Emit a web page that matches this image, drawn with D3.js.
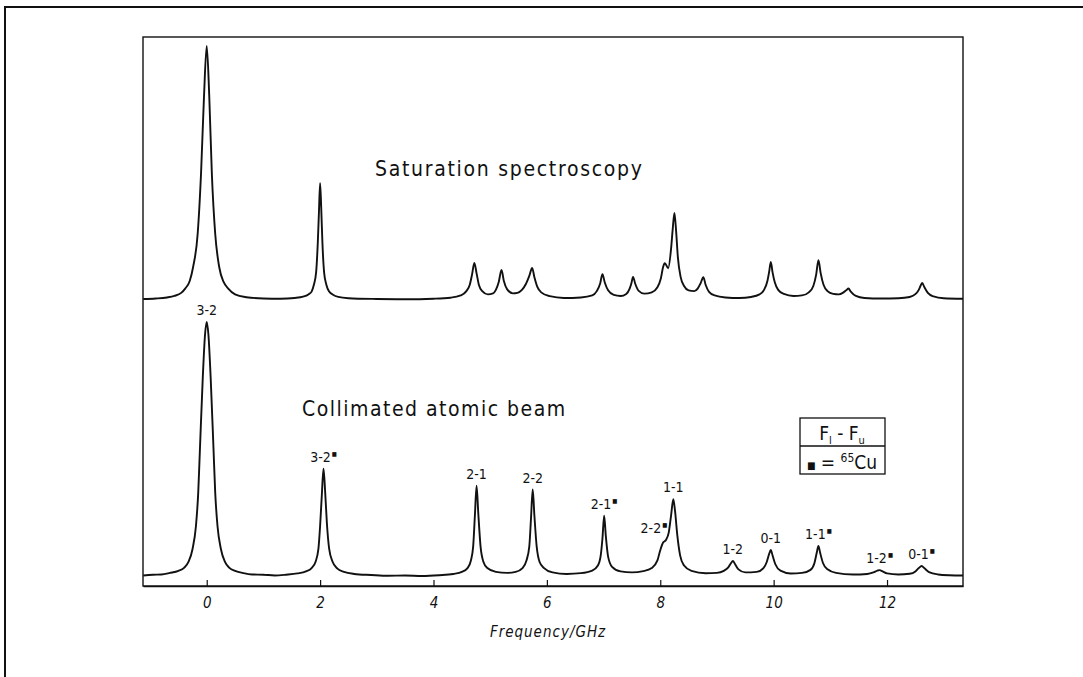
<!DOCTYPE html>
<html>
<head>
<meta charset="utf-8">
<script src="https://cdn.jsdelivr.net/npm/d3@7"></script>
<style>
  html, body { margin: 0; padding: 0; background: #fff; }
  svg { display: block; }
  .lbl { font-family: "DejaVu Sans Condensed", "DejaVu Sans", sans-serif; fill: #111; }
  .tick text { font-family: "DejaVu Sans Condensed", "DejaVu Sans", sans-serif; font-style: italic; font-size: 15px; fill: #111; }
</style>
</head>
<body>
<svg id="chart" width="1083" height="677"></svg>
<script>
// Frequency axis (GHz)
const freqTicks = [0, 2, 4, 6, 8, 10, 12];
const freqDomain = [-1.124, 13.34];

// Saturation spectroscopy trace: [frequency GHz, signal]
const saturationTrace = [
  [-1.12, 0.4], [-0.9, 0.6], [-0.7, 1.0], [-0.57, 1.6], [-0.45, 2.8], [-0.38, 4.5], [-0.3, 7.5],
  [-0.24, 13], [-0.16, 26], [-0.1, 50], [-0.05, 79], [0, 100], [0.045, 80], [0.09, 50],
  [0.15, 26], [0.22, 13], [0.3, 7], [0.38, 4.5], [0.5, 2.2], [0.7, 1.1], [1.0, 0.6], [1.3, 0.5],
  [1.55, 0.8], [1.7, 1.3], [1.8, 2.3], [1.85, 3.3], [1.89, 6], [1.93, 11], [1.96, 23], [1.98, 35],
  [2.0, 46], [2.02, 36], [2.04, 23], [2.07, 11], [2.11, 6], [2.16, 3.3], [2.22, 2.2], [2.32, 1.2],
  [2.5, 0.7], [3.0, 0.4], [3.5, 0.3], [4.0, 0.5], [4.3, 0.9], [4.48, 1.8], [4.58, 3.5], [4.64, 6],
  [4.68, 10], [4.72, 14.6], [4.76, 10.5], [4.8, 6], [4.86, 3.5], [4.96, 2.2], [5.05, 2.6], [5.1, 4],
  [5.15, 7], [5.2, 11.8], [5.24, 7.6], [5.3, 4.2], [5.4, 2.6], [5.48, 2.8], [5.56, 4], [5.63, 6.3],
  [5.69, 9.5], [5.74, 12.6], [5.78, 9], [5.83, 5.3], [5.9, 3], [6.05, 1.5], [6.3, 0.8], [6.6, 1.0],
  [6.8, 1.8], [6.88, 3.5], [6.94, 6.5], [6.98, 10.2], [7.02, 7], [7.08, 3.8], [7.18, 2], [7.3, 1.6],
  [7.4, 2.4], [7.46, 4.5], [7.49, 6.5], [7.52, 9.1], [7.56, 6.3], [7.62, 3.6], [7.72, 2.5], [7.85, 3],
  [7.95, 5], [8.01, 8.5], [8.05, 13], [8.08, 14.5], [8.14, 12.5], [8.19, 20], [8.22, 28], [8.25, 34.3],
  [8.28, 27], [8.31, 17], [8.36, 9], [8.42, 5.5], [8.5, 3.8], [8.6, 3.5], [8.66, 4.5], [8.71, 6.5],
  [8.76, 9], [8.8, 6], [8.86, 3.2], [8.96, 1.8], [9.15, 1], [9.4, 0.8], [9.6, 1.2], [9.75, 2.2],
  [9.83, 4], [9.89, 7.5], [9.92, 11], [9.95, 15], [9.98, 11], [10.02, 7], [10.08, 4], [10.18, 2.4],
  [10.35, 1.6], [10.5, 1.8], [10.62, 3], [10.7, 5.5], [10.75, 10], [10.79, 15.7], [10.83, 10.5],
  [10.88, 6], [10.95, 3.5], [11.05, 2.4], [11.15, 2.2], [11.22, 2.8], [11.28, 3.8], [11.32, 4.5],
  [11.36, 3.3], [11.45, 1.6], [11.6, 0.8], [11.9, 0.6], [12.2, 0.7], [12.4, 1.2], [12.5, 2.3],
  [12.56, 4], [12.6, 6], [12.62, 6.7], [12.66, 5], [12.72, 2.8], [12.82, 1.4], [13.0, 0.7], [13.34, 0.5]
];

// Collimated atomic beam trace: [frequency GHz, signal]
const beamTrace = [
  [-1.12, 0.6], [-0.95, 0.9], [-0.8, 1.0], [-0.65, 1.6], [-0.5, 2.4], [-0.4, 3.6], [-0.32, 6],
  [-0.25, 11], [-0.19, 20], [-0.15, 33], [-0.12, 50], [-0.07, 78], [-0.03, 95], [0, 100],
  [0.03, 95], [0.07, 78], [0.12, 50], [0.15, 33], [0.19, 20], [0.25, 11], [0.32, 6], [0.4, 3.6],
  [0.5, 2.4], [0.65, 1.5], [0.8, 1.0], [1.0, 0.9], [1.2, 0.6], [1.4, 0.9], [1.6, 1.4], [1.75, 2.2],
  [1.85, 3.5], [1.92, 6], [1.97, 11], [2.0, 20], [2.03, 32], [2.06, 42.5], [2.09, 33], [2.12, 21],
  [2.16, 11], [2.22, 6], [2.3, 3.4], [2.42, 2], [2.6, 1.2], [2.9, 0.8], [3.2, 0.5], [3.5, 0.6],
  [3.8, 0.4], [4.1, 0.7], [4.35, 1.2], [4.5, 2], [4.6, 3.5], [4.66, 6.5], [4.7, 12], [4.73, 24],
  [4.76, 35.8], [4.79, 25], [4.83, 12], [4.88, 6], [4.95, 3.5], [5.1, 2], [5.3, 1.6], [5.45, 2],
  [5.57, 3.5], [5.64, 6.5], [5.69, 12], [5.72, 23], [5.75, 34.3], [5.78, 24], [5.82, 12], [5.87, 6],
  [5.95, 3.5], [6.1, 1.8], [6.35, 1.2], [6.6, 1.5], [6.8, 2.5], [6.9, 4.5], [6.95, 8.5], [6.98, 15],
  [7.01, 24], [7.04, 16], [7.08, 8], [7.15, 4], [7.3, 2.2], [7.5, 1.8], [7.7, 2.3], [7.85, 3.5],
  [7.95, 6.5], [8.0, 10.5], [8.05, 13.5], [8.1, 14.5], [8.15, 17.5], [8.19, 24], [8.23, 30.5],
  [8.26, 26], [8.3, 16.5], [8.35, 8.5], [8.42, 4.5], [8.55, 2.4], [8.8, 1.5], [9.0, 1.6], [9.12, 2.4],
  [9.2, 3.8], [9.25, 5.5], [9.28, 6.3], [9.32, 5], [9.38, 3], [9.5, 1.8], [9.7, 2], [9.82, 3.5],
  [9.88, 6], [9.92, 9], [9.95, 10.6], [9.98, 8.5], [10.03, 5], [10.12, 2.5], [10.3, 1.4], [10.5, 1.6],
  [10.65, 2.8], [10.72, 5.5], [10.76, 9.5], [10.79, 12.2], [10.82, 9.5], [10.87, 5.5], [10.95, 3],
  [11.1, 1.6], [11.4, 1.0], [11.65, 1.2], [11.76, 1.8], [11.83, 2.5], [11.87, 2.7], [11.92, 2.2],
  [12.0, 1.4], [12.2, 1.0], [12.4, 1.3], [12.5, 2.2], [12.56, 3.5], [12.61, 4.3], [12.66, 3.4],
  [12.74, 1.9], [12.9, 1.0], [13.1, 0.7], [13.34, 0.6]
];

// Hyperfine component labels F_l - F_u (marked = 65Cu)
const lineNames     = ["3-2", "3-2", "2-1", "2-2", "2-1", "2-2", "1-1", "1-2", "0-1", "1-1", "1-2", "0-1"];
const lineIsotope65 = [false, true, false, false, true, true, false, false, false, true, true, true];
const lineFreq      = [0, 2.06, 4.76, 5.75, 7.01, 8.1, 8.23, 9.28, 9.95, 10.79, 11.87, 12.61];
const linePeak      = [100, 42.5, 35.8, 34.3, 24, 14.5, 30.5, 6.3, 10.6, 12.2, 2.7, 4.3];
// horizontal nudges for crowded labels (px)
const lineNudge     = [0, 0, 0, 0, 0, -12, 0, 0, 0, 0, 0, 0];

const svg = d3.select("#chart");
const plot = { left: 143, right: 963, top: 37, bottom: 586 };

const x = d3.scaleLinear().domain(freqDomain).range([plot.left, plot.right]);
const yTop = d3.scaleLinear().domain([0, 100]).range([300, 46]);
const yBottom = d3.scaleLinear().domain([0, 100]).range([577, 322]);

// outer frame (left and top edges)
svg.append("path")
  .attr("d", "M5,677V7H1083")
  .attr("fill", "none").attr("stroke", "#111").attr("stroke-width", 2);

// plot box
svg.append("rect")
  .attr("x", plot.left).attr("y", plot.top)
  .attr("width", plot.right - plot.left).attr("height", plot.bottom - plot.top)
  .attr("fill", "none").attr("stroke", "#111").attr("stroke-width", 1.4);

// frequency axis with inward ticks
const axis = d3.axisBottom(x).tickValues(freqTicks).tickFormat(d3.format("d"))
  .tickSizeInner(-6).tickSizeOuter(0).tickPadding(11);
const gAxis = svg.append("g").attr("transform", `translate(0,${plot.bottom})`).call(axis);
gAxis.select(".domain").attr("stroke", "#111").attr("stroke-width", 1.4);
gAxis.selectAll(".tick line").attr("stroke", "#111").attr("stroke-width", 1.2);

svg.append("text").attr("class", "lbl")
  .attr("x", 548).attr("y", 637)
  .attr("text-anchor", "middle")
  .style("font-style", "italic").style("font-size", "15px").style("letter-spacing", "1px")
  .text("Frequency/GHz");

// spectra
const traceLine = (yScale) => d3.line().x(d => x(d[0])).y(d => yScale(d[1])).curve(d3.curveMonotoneX);
svg.append("path").datum(saturationTrace)
  .attr("d", traceLine(yTop))
  .attr("fill", "none").attr("stroke", "#111").attr("stroke-width", 1.9).attr("stroke-linejoin", "round");
svg.append("path").datum(beamTrace)
  .attr("d", traceLine(yBottom))
  .attr("fill", "none").attr("stroke", "#111").attr("stroke-width", 1.9).attr("stroke-linejoin", "round");

// panel titles
svg.append("text").attr("class", "lbl")
  .attr("x", 375).attr("y", 176)
  .style("font-size", "21px").style("letter-spacing", "1.7px")
  .text("Saturation spectroscopy");
svg.append("text").attr("class", "lbl")
  .attr("x", 302).attr("y", 416)
  .style("font-size", "21px").style("letter-spacing", "1.5px")
  .text("Collimated atomic beam");

// component labels above the beam peaks
const labels = svg.append("g").selectAll("text")
  .data(lineNames.map((n, i) => ({ n, i })))
  .join("text").attr("class", "lbl")
  .attr("x", d => x(lineFreq[d.i]) + lineNudge[d.i])
  .attr("y", d => yBottom(linePeak[d.i]) - 7)
  .attr("text-anchor", "middle")
  .style("font-size", "14px");
labels.append("tspan").text(d => d.n);
labels.filter(d => lineIsotope65[d.i]).append("tspan")
  .attr("dy", -6).attr("dx", 1).style("font-size", "6px").text("■");

// legend box
const lg = svg.append("g");
lg.append("rect").attr("x", 800).attr("y", 418).attr("width", 85).attr("height", 56)
  .attr("fill", "#fff").attr("stroke", "#111").attr("stroke-width", 1.3);
lg.append("line").attr("x1", 800).attr("x2", 885).attr("y1", 446).attr("y2", 446)
  .attr("stroke", "#111").attr("stroke-width", 1.3);
const t1 = lg.append("text").attr("class", "lbl").attr("x", 842).attr("y", 440)
  .attr("text-anchor", "middle").style("font-size", "19px");
t1.append("tspan").text("F");
t1.append("tspan").attr("dy", 4).style("font-size", "11px").text("l");
t1.append("tspan").attr("dy", -4).text(" - F");
t1.append("tspan").attr("dy", 4).style("font-size", "11px").text("u");
const t2 = lg.append("text").attr("class", "lbl").attr("x", 842).attr("y", 469)
  .attr("text-anchor", "middle").style("font-size", "19px");
t2.append("tspan").style("font-size", "10px").text("■");
t2.append("tspan").text(" = ");
t2.append("tspan").attr("dy", -7).style("font-size", "12px").text("65");
t2.append("tspan").attr("dy", 7).text("Cu");
</script>
</body>
</html>
